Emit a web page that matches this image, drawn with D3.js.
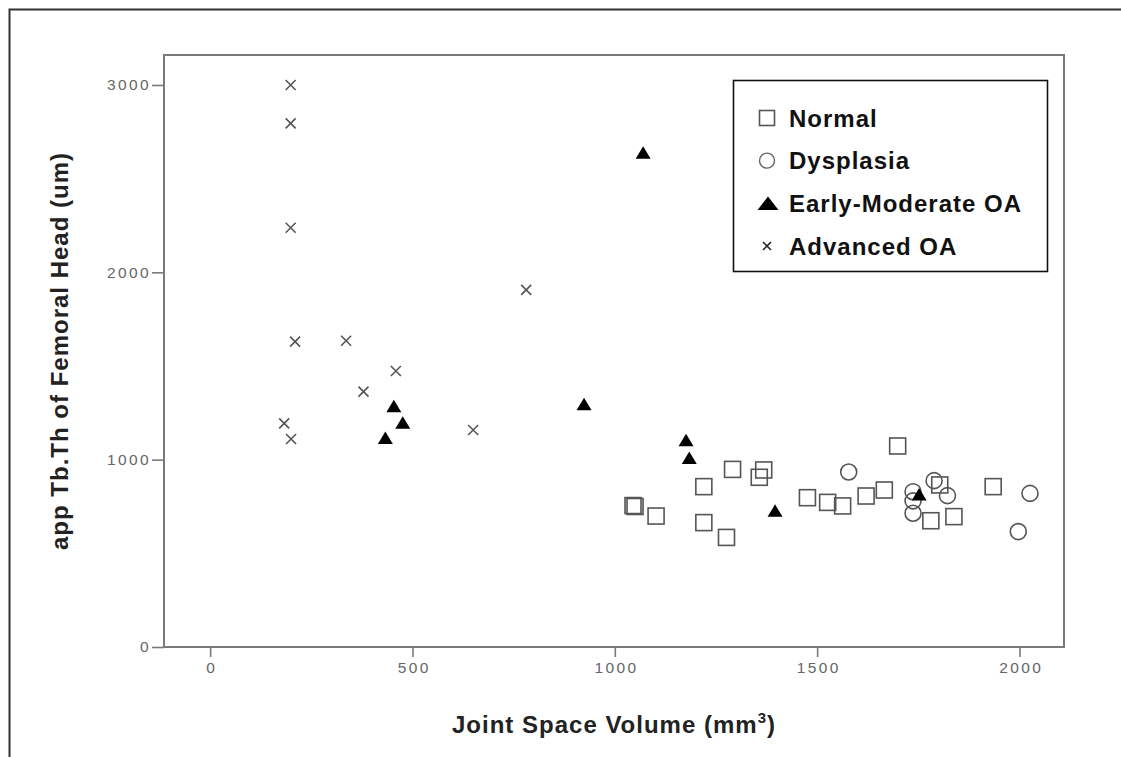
<!DOCTYPE html>
<html>
<head>
<meta charset="utf-8">
<script src="https://cdn.jsdelivr.net/npm/d3@7"></script>
<style>
  html, body { margin: 0; padding: 0; background: #fff; }
  svg { display: block; }
</style>
</head>
<body>
<svg id="chart" width="1121" height="757"></svg>
<script>
// ---- data ----
const seriesNames = ["Normal", "Dysplasia", "Early-Moderate OA", "Advanced OA"];
const normalX = [1045, 1050, 1102, 1220, 1220, 1276, 1291, 1368, 1357, 1476, 1526, 1563, 1621, 1666, 1699, 1781, 1838, 1803, 1935];
const normalY = [755, 750, 699, 856, 664, 585, 948, 945, 906, 797, 772, 753, 806, 838, 1073, 674, 696, 865, 856];
const dysplasiaX = [1578, 1737, 1737, 1737, 1789, 1822, 2026, 1997];
const dysplasiaY = [934, 829, 780, 714, 888, 808, 820, 616];
const earlyX = [1070, 924, 454, 476, 433, 1176, 1184, 1396, 1752];
const earlyY = [2640, 1297, 1286, 1199, 1117, 1105, 1010, 728, 815];
const advancedX = [199, 199, 199, 781, 210, 336, 459, 379, 650, 183, 200];
const advancedY = [3000, 2795, 2238, 1906, 1630, 1635, 1473, 1363, 1158, 1194, 1110];
const xTicks = [0, 500, 1000, 1500, 2000];
const yTicks = [0, 1000, 2000, 3000];
const xTitle = "Joint Space Volume (mm";
const xTitleSup = "3";
const yTitle = "app Tb.Th of Femoral Head (um)";

const svg = d3.select("#chart");

// outer frame (only left and top edges visible)
svg.append("rect")
  .attr("x", 9.5).attr("y", 9.5).attr("width", 1200).attr("height", 800)
  .attr("fill", "none").attr("stroke", "#333").attr("stroke-width", 2);

const plot = { left: 164, right: 1064, top: 55, bottom: 647 };
const x = d3.scaleLinear().domain([-114, 2110]).range([plot.left, plot.right]);
const y = d3.scaleLinear().domain([0, 3160]).range([plot.bottom, plot.top]);

const axisColor = "#7a7a7a";
const fontFam = "'Liberation Sans', Arial, sans-serif";

// axes
const gx = svg.append("g").attr("transform", `translate(0,${plot.bottom})`)
  .call(d3.axisBottom(x).tickValues(xTicks).tickFormat(d3.format("d")).tickSize(10).tickSizeOuter(0).tickPadding(5));
const gy = svg.append("g").attr("transform", `translate(${plot.left},0)`)
  .call(d3.axisLeft(y).tickValues(yTicks).tickFormat(d3.format("d")).tickSize(12).tickSizeOuter(0).tickPadding(1));
[gx, gy].forEach(g => {
  g.select(".domain").remove();
  g.selectAll(".tick line").attr("stroke", axisColor).attr("stroke-width", 1.6);
  g.selectAll(".tick text")
    .attr("fill", "#666").attr("font-family", fontFam).attr("font-size", 15.5)
    .attr("letter-spacing", "2.4px");
});
gx.selectAll(".tick text").attr("dx", "1.2px");

// plot frame
svg.append("rect")
  .attr("x", plot.left).attr("y", plot.top)
  .attr("width", plot.right - plot.left).attr("height", plot.bottom - plot.top)
  .attr("fill", "none").attr("stroke", axisColor).attr("stroke-width", 2);

const markStroke = "#555";
const sq = 16, cr = 8;

// Normal: open squares
svg.append("g").selectAll("rect").data(d3.zip(normalX, normalY)).join("rect")
  .attr("x", d => x(d[0]) - sq / 2).attr("y", d => y(d[1]) - sq / 2)
  .attr("width", sq).attr("height", sq)
  .attr("fill", "none").attr("stroke", markStroke).attr("stroke-width", 1.6);

// Dysplasia: open circles
svg.append("g").selectAll("circle").data(d3.zip(dysplasiaX, dysplasiaY)).join("circle")
  .attr("cx", d => x(d[0])).attr("cy", d => y(d[1])).attr("r", cr)
  .attr("fill", "none").attr("stroke", markStroke).attr("stroke-width", 1.6);

// Early-Moderate OA: filled triangles
const tri = (cx, cy, w, h) => `M${cx},${cy - h / 2}L${cx + w / 2},${cy + h / 2}L${cx - w / 2},${cy + h / 2}Z`;
svg.append("g").selectAll("path").data(d3.zip(earlyX, earlyY)).join("path")
  .attr("d", d => tri(x(d[0]), y(d[1]), 15, 12.5))
  .attr("fill", "#000");

// Advanced OA: crosses
const cross = (cx, cy, s) => `M${cx - s},${cy - s}L${cx + s},${cy + s}M${cx - s},${cy + s}L${cx + s},${cy - s}`;
svg.append("g").selectAll("path").data(d3.zip(advancedX, advancedY)).join("path")
  .attr("d", d => cross(x(d[0]), y(d[1]), 5))
  .attr("fill", "none").attr("stroke", markStroke).attr("stroke-width", 1.6);

// legend
const lg = svg.append("g");
lg.append("rect").attr("x", 733.5).attr("y", 80.5).attr("width", 314).attr("height", 191)
  .attr("fill", "#fff").attr("stroke", "#111").attr("stroke-width", 1.6);
const legendY = d3.scalePoint().domain(seriesNames).range([118, 246]);
const symX = 767;
seriesNames.forEach((name, i) => {
  const cy = legendY(name);
  if (i === 0) {
    lg.append("rect").attr("x", symX - 7.5).attr("y", cy - 7.5).attr("width", 15).attr("height", 15)
      .attr("fill", "none").attr("stroke", markStroke).attr("stroke-width", 1.6);
  } else if (i === 1) {
    lg.append("circle").attr("cx", symX).attr("cy", cy).attr("r", 7.5)
      .attr("fill", "none").attr("stroke", "#666").attr("stroke-width", 1.4);
  } else if (i === 2) {
    lg.append("path").attr("d", tri(symX + 1, cy, 21, 13.5)).attr("fill", "#000");
  } else {
    lg.append("path").attr("d", cross(symX, cy, 4)).attr("fill", "none").attr("stroke", "#222").attr("stroke-width", 1.6);
  }
  lg.append("text").attr("x", 789).attr("y", cy).attr("dy", "0.36em")
    .attr("font-family", fontFam).attr("font-weight", "bold")
    .attr("font-size", 24).attr("letter-spacing", "1px").attr("fill", "#111").text(name);
});

// axis titles
const xt = svg.append("text")
  .attr("x", (plot.left + plot.right) / 2).attr("y", 733)
  .attr("text-anchor", "middle")
  .attr("font-family", fontFam).attr("font-weight", "bold")
  .attr("font-size", 24).attr("letter-spacing", "1px").attr("fill", "#222");
xt.append("tspan").text(xTitle);
xt.append("tspan").attr("font-size", 15).attr("dy", -10).text(xTitleSup);
xt.append("tspan").attr("dy", 10).text(")");

svg.append("text")
  .attr("transform", `translate(68,${(plot.top + plot.bottom) / 2}) rotate(-90)`)
  .attr("text-anchor", "middle")
  .attr("font-family", fontFam).attr("font-weight", "bold")
  .attr("font-size", 24).attr("letter-spacing", "1px").attr("fill", "#222").text(yTitle);
</script>
</body>
</html>
